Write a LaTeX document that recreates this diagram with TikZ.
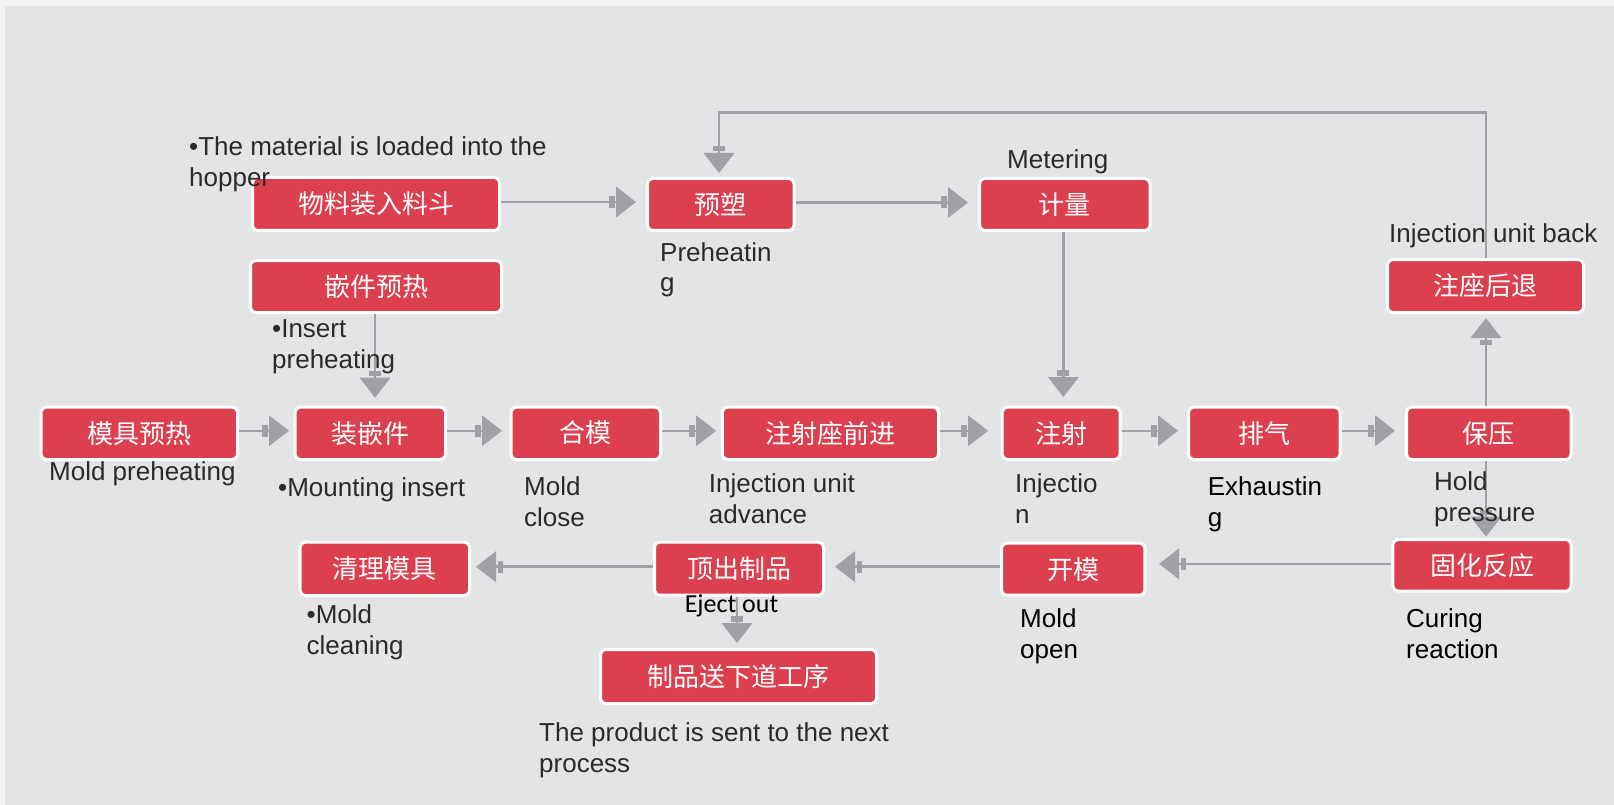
\documentclass[tikz,border=0pt]{standalone}
\usepackage{fontspec}
\setmainfont{Liberation Sans}
\newfontfamily\cjkfont{Noto Sans CJK SC}
\newfontfamily\calfont{Carlito}
\usetikzlibrary{arrows.meta}
\definecolor{bgouter}{RGB}{241,241,241}
\definecolor{bggrey}{RGB}{227,228,230}
\definecolor{boxred}{RGB}{220,63,77}
\definecolor{arrgrey}{RGB}{160,160,165}
\definecolor{txtgrey}{RGB}{42,42,42}
\newcommand\twolines[2]{\vtop{\baselineskip=31pt\lineskiplimit=-50pt\hbox{#1}\hbox{#2}}}
\begin{document}
\begin{tikzpicture}[x=1pt,y=-1pt,
  procbox/.style={draw=white, line width=3pt, fill=boxred, rounded corners=5pt, inner sep=0pt, text=white, font=\cjkfont\fontsize{26}{30}\selectfont},
  conn/.style={draw=arrgrey, line width=2.5pt, -{Rectangle[length=5.5pt,width=12pt,sep=1.5pt,line width=0pt]Triangle[length=20pt,width=31pt,line width=0pt]}},
  lbl/.style={anchor=base west, inner sep=0pt, text=txtgrey, font=\fontsize{26}{31}\selectfont},
  lblk/.style={lbl, text=black}
]
\useasboundingbox (0,0) rectangle (1614,805);
\fill[bgouter] (0,0) rectangle (1614,805);
\fill[bggrey] (5,6) rectangle (1614,805);

% boxes
\node[procbox, minimum width=247pt, minimum height=53pt] (A) at (376,204) {物料装入料斗};
\node[procbox, minimum width=251pt, minimum height=52pt] (B) at (376,286.5) {嵌件预热};
\node[procbox, minimum width=146.5pt, minimum height=52pt] (C) at (720.75,204.5) {预塑};
\node[procbox, minimum width=170.5pt, minimum height=52pt] (D) at (1064.75,204.5) {计量};
\node[procbox, minimum width=196pt, minimum height=53pt] (E) at (1485.5,286) {注座后退};
\node[procbox, minimum width=196.4pt, minimum height=52.3pt] (F) at (139.3,433.35) {模具预热};
\node[procbox, minimum width=150.3pt, minimum height=52.3pt] (G) at (370.35,433.35) {装嵌件};
\node[procbox, minimum width=149.4pt, minimum height=52.3pt] (H) at (585.8,433.35) {\raisebox{3.5pt}{合模}};
\node[procbox, minimum width=216.2pt, minimum height=52.3pt] (I) at (830.4,433.35) {注射座前进};
\node[procbox, minimum width=117.8pt, minimum height=52.3pt] (J) at (1061.1,433.35) {注射};
\node[procbox, minimum width=151.6pt, minimum height=52.3pt] (K) at (1264.3,433.35) {排气};
\node[procbox, minimum width=164.6pt, minimum height=52.3pt] (L) at (1488.8,433.35) {保压};
\node[procbox, minimum width=169.4pt, minimum height=53.3pt] (M) at (384.8,568.85) {清理模具};
\node[procbox, minimum width=169pt, minimum height=53pt] (N) at (739,568.7) {顶出制品};
\node[procbox, minimum width=143.3pt, minimum height=52pt] (O) at (1073.15,569.2) {开模};
\node[procbox, minimum width=178.1pt, minimum height=51.7pt] (P) at (1482,565.35) {固化反应};
\node[procbox, minimum width=276pt, minimum height=54pt] (Q) at (738.5,676.5) {制品送下道工序};

% connectors
\draw[conn, shorten >=10pt] ([yshift=2pt]A.east) -- ([yshift=2pt]A.east -| C.west);
\draw[conn, shorten >=10pt] ([yshift=2pt]C.east) -- ([yshift=2pt]C.east -| D.west);
\draw[conn, shorten >=8.7pt] ([xshift=-1.4pt]D.south) -- ([xshift=-1.4pt]D.south |- J.north);
\draw[conn, shorten >=8pt] ([xshift=-1pt]B.south) -- ([xshift=-1pt]B.south |- G.north);
\draw[conn, shorten >=4.7pt] ([yshift=2.6pt]F.east) -- ([yshift=2.6pt]F.east -| G.west);
\draw[conn, shorten >=7.6pt] ([yshift=2.6pt]G.east) -- ([yshift=2.6pt]G.east -| H.west);
\draw[conn, shorten >=4.8pt] ([yshift=2.6pt]H.east) -- ([yshift=2.6pt]H.east -| I.west);
\draw[conn, shorten >=12.7pt] ([yshift=2.6pt]I.east) -- ([yshift=2.6pt]I.east -| J.west);
\draw[conn, shorten >=9pt] ([yshift=2.6pt]J.east) -- ([yshift=2.6pt]J.east -| K.west);
\draw[conn, shorten >=10pt] ([yshift=2.6pt]K.east) -- ([yshift=2.6pt]K.east -| L.west);
\draw[conn, shorten >=4pt] ([xshift=-2.8pt]L.north) -- ([xshift=-2.8pt]L.north |- E.south);
\draw[conn, shorten >=1.3pt] ([xshift=-2.8pt]L.south) -- ([xshift=-2.8pt]L.south |- P.north);
\draw[conn, shorten >=12.7pt] ([yshift=1.5pt]P.west) -- ([yshift=1.5pt]P.west -| O.east);
\draw[conn, shorten >=10pt] ([yshift=2.5pt]O.west) -- ([yshift=2.5pt]O.west -| N.east);
\draw[conn, shorten >=5pt] ([yshift=2pt]N.west) -- ([yshift=2pt]N.west -| M.east);
\draw[conn, shorten >=5pt] ([xshift=-2pt]N.south) -- ([xshift=-2pt]N.south |- Q.north);
\coordinate (fbR) at (1486,112.7);
\coordinate (fbL) at (719,112.7);
\draw[conn, shorten >=4pt] (fbR |- E.north) -- (fbR) -- (fbL) -- (fbL |- C.north);

% labels
\node[lbl] (tMat) at (189,156) {\twolines{•The material is loaded into the}{hopper}};
\node[lbl] (tMet) at (1007,169) {Metering};
\node[lbl] (tPre) at (660,261) {\twolines{Preheatin}{g}};
\node[lbl] (tBack) at (1389,242) {Injection unit back};
\node[lbl] (tIns) at (272,337) {\twolines{•Insert}{preheating}};
\node[lbl] (tMoldPre) at (49,480) {Mold preheating};
\node[lbl] (tMount) at (278,496) {•Mounting insert};
\node[lbl] (tClose) at (524,495) {\twolines{Mold}{close}};
\node[lbl] (tAdv) at (708.7,492) {\twolines{Injection unit}{advance}};
\node[lbl] (tInj) at (1015,492) {\twolines{Injectio}{n}};
\node[lblk] (tExh) at (1207.6,495) {\twolines{Exhaustin}{g}};
\node[lbl] (tHold) at (1434,490) {\twolines{Hold}{pressure}};
\node[lbl] (tClean) at (306.5,623) {\twolines{•Mold}{cleaning}};
\node[lblk, font=\calfont\fontsize{26}{31}\selectfont] (tEject) at (684.6,612) {Eject out};
\node[lblk] (tOpen) at (1020,627) {\twolines{Mold}{open}};
\node[lblk] (tCure) at (1406,627) {\twolines{Curing}{reaction}};
\node[lbl] (tProd) at (539,741) {\twolines{The product is sent to the next}{process}};
\end{tikzpicture}
\end{document}
